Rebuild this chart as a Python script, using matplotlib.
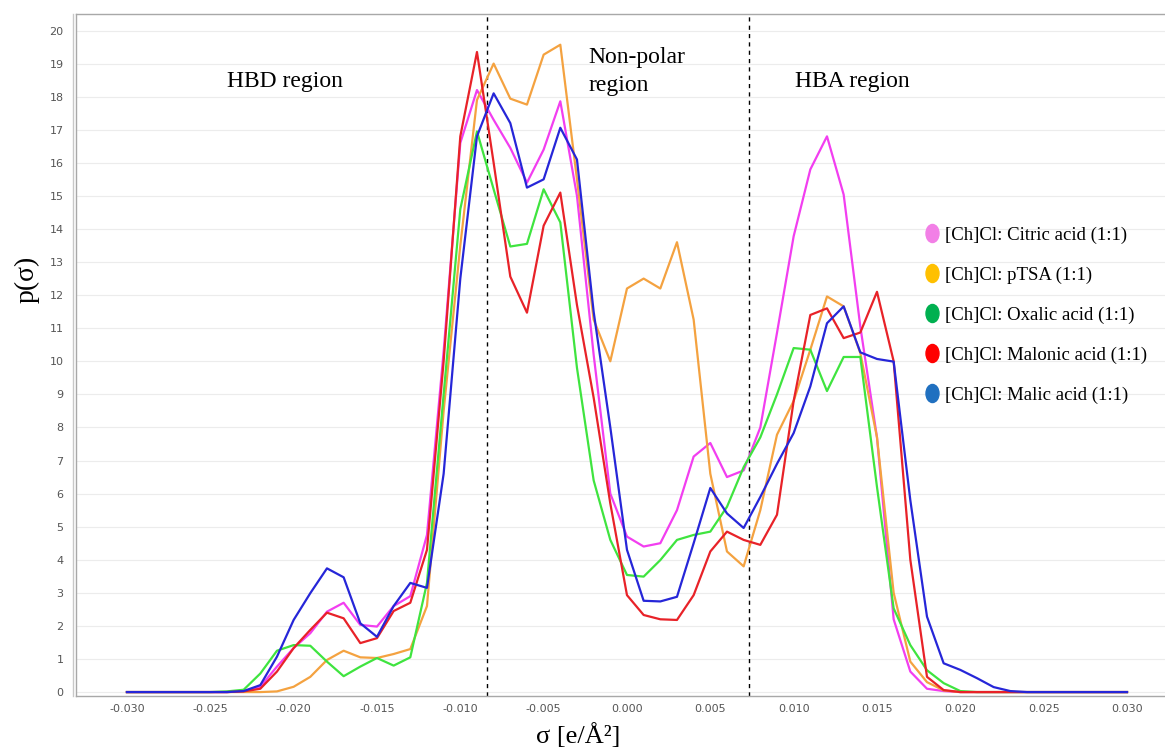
import numpy as np
import matplotlib
matplotlib.use("Agg")
import matplotlib.pyplot as plt
from matplotlib.lines import Line2D
from matplotlib.path import Path
from matplotlib.transforms import ScaledTranslation

# sigma grid of the COSMO sigma-profiles
sigma = np.linspace(-0.030, 0.030, 61)

z7 = [0.0] * 7

citric = z7 + [0.02, 0.16, 0.77, 1.33, 1.78, 2.43, 2.70, 2.03, 1.98, 2.60, 2.90, 4.75,
               10.3, 16.6, 18.2, 17.3, 16.45, 15.4, 16.4, 17.86, 15.0, 10.2, 6.0,
               4.7, 4.4, 4.5, 5.5, 7.12, 7.53, 6.5, 6.7, 8.0, 10.86, 13.78, 15.8, 16.8,
               15.04, 11.05, 7.7, 2.2, 0.62, 0.1, 0.03] + [0.0] * 11

ptsa = z7 + [0.0, 0.0, 0.02, 0.16, 0.46, 0.97, 1.25, 1.05, 1.03, 1.15, 1.30, 2.6,
             8.5, 13.5, 17.9, 19.0, 17.94, 17.76, 19.27, 19.57, 15.5, 11.26, 10.0,
             12.2, 12.5, 12.2, 13.6, 11.26, 6.6, 4.25, 3.8, 5.5, 7.78, 8.8, 10.35, 11.96,
             11.66, 10.25, 7.7, 3.0, 0.92, 0.3, 0.05] + [0.0] * 11

oxalic = [0.0] * 6 + [0.02, 0.07, 0.56, 1.25, 1.42, 1.40, 0.92, 0.48, 0.77, 1.03, 0.80, 1.05,
                      3.3, 9.0, 14.6, 16.95, 15.2, 13.47, 13.55, 15.2, 14.2, 9.8, 6.4, 4.6,
                      3.54, 3.49, 3.99, 4.6, 4.75, 4.85, 5.6, 6.8, 7.7, 9.0, 10.4, 10.35, 9.1,
                      10.13, 10.13, 6.2, 2.53, 1.42, 0.66, 0.27, 0.03] + [0.0] * 10

malonic = z7 + [0.02, 0.10, 0.62, 1.33, 1.88, 2.40, 2.23, 1.48, 1.63, 2.45, 2.70, 4.3,
                10.0, 16.8, 19.35, 16.0, 12.56, 11.47, 14.1, 15.1, 11.7, 8.9, 5.7,
                2.93, 2.33, 2.2, 2.18, 2.93, 4.25, 4.85, 4.6, 4.45, 5.36, 8.8, 11.4, 11.6,
                10.7, 10.87, 12.1, 10.0, 4.0, 0.46, 0.06] + [0.0] * 11

malic = z7 + [0.03, 0.21, 1.07, 2.18, 2.99, 3.74, 3.47, 2.08, 1.67, 2.6, 3.3, 3.15,
              6.6, 12.5, 16.8, 18.1, 17.2, 15.25, 15.5, 17.06, 16.1, 11.5, 8.0,
              4.3, 2.76, 2.74, 2.88, 4.5, 6.17, 5.4, 4.96, 5.9, 6.9, 7.83, 9.24, 11.15,
              11.66, 10.27, 10.07, 9.99, 5.8, 2.28, 0.87, 0.67, 0.42, 0.15, 0.03] + [0.0] * 7

labels = ["[Ch]Cl: Citric acid (1:1)", "[Ch]Cl: pTSA (1:1)", "[Ch]Cl: Oxalic acid (1:1)",
          "[Ch]Cl: Malonic acid (1:1)", "[Ch]Cl: Malic acid (1:1)"]
line_colors = ["#f23ef0", "#f4a240", "#3fe43f", "#e82228", "#2626d8"]
dot_colors = ["#f27fe6", "#ffc000", "#00b050", "#ff0000", "#2070c0"]
series = [citric, ptsa, oxalic, malonic, malic]

# region boundaries (dashed)
bounds = [-0.0084, 0.0073]

serif = "Liberation Serif"

fig = plt.figure(figsize=(11.65, 7.55), dpi=100)
ax = fig.add_axes([0.0652, 0.0781, 0.9348, 0.9034])

for y, c in zip(series, line_colors):
    ax.plot(sigma, y, color=c, lw=1.6, zorder=3)

for b in bounds:
    ax.axvline(b, color="black", lw=1.0, ls=(0, (3, 3)), zorder=2)

ax.set_xlim(-0.03306, 0.03228)
ax.set_ylim(-0.12, 20.5)
ax.set_xticks(np.linspace(-0.030, 0.030, 13))
ax.set_xticklabels([f"{v:.3f}" for v in np.linspace(-0.030, 0.030, 13)])
ax.set_yticks(range(0, 21))
ax.tick_params(length=0, labelsize=8, labelcolor="#555555", pad=6)
ax.tick_params(axis="y", pad=9)
ax.grid(axis="y", color="#ececec", lw=0.8, zorder=0)

ax.spines["right"].set_visible(False)
for s in ["left", "top", "bottom"]:
    ax.spines[s].set_color("#a8a8a8")
    ax.spines[s].set_linewidth(1.0)
# second rule beside the left axis
off = ScaledTranslation(-3 / 100, 0, fig.dpi_scale_trans)
ax.plot([0, 0], [0, 1], transform=ax.transAxes + off, color="#c8c8c8",
        lw=1.0, clip_on=False)

ax.set_ylabel("p(σ)", family=serif, fontsize=20)
ax.yaxis.set_label_coords(-0.033, 0.611)
ax.set_xlabel("σ [e/Å²]", family=serif, fontsize=19)
ax.xaxis.set_label_coords(0.461, -0.04)

ax.text(-0.0240, 18.45, "HBD region", family=serif, fontsize=17, va="center")
ax.text(-0.0023, 18.75, "Non-polar\nregion", family=serif, fontsize=17, va="center",
        linespacing=1.45)
ax.text(0.0101, 18.45, "HBA region", family=serif, fontsize=17, va="center")

ell = Path(Path.unit_circle().vertices * [0.72, 1.0], Path.unit_circle().codes)
handles = [Line2D([], [], ls="none", marker=ell, markersize=13, color=c, mec=c)
           for c in dot_colors]
ax.legend(handles, labels, loc="upper left", bbox_to_anchor=(0.764, 0.713),
          frameon=False, prop={"family": serif, "size": 13.5},
          handlelength=0.8, handletextpad=0.3, labelspacing=1.21)

fig.savefig("out.png", dpi=100)
